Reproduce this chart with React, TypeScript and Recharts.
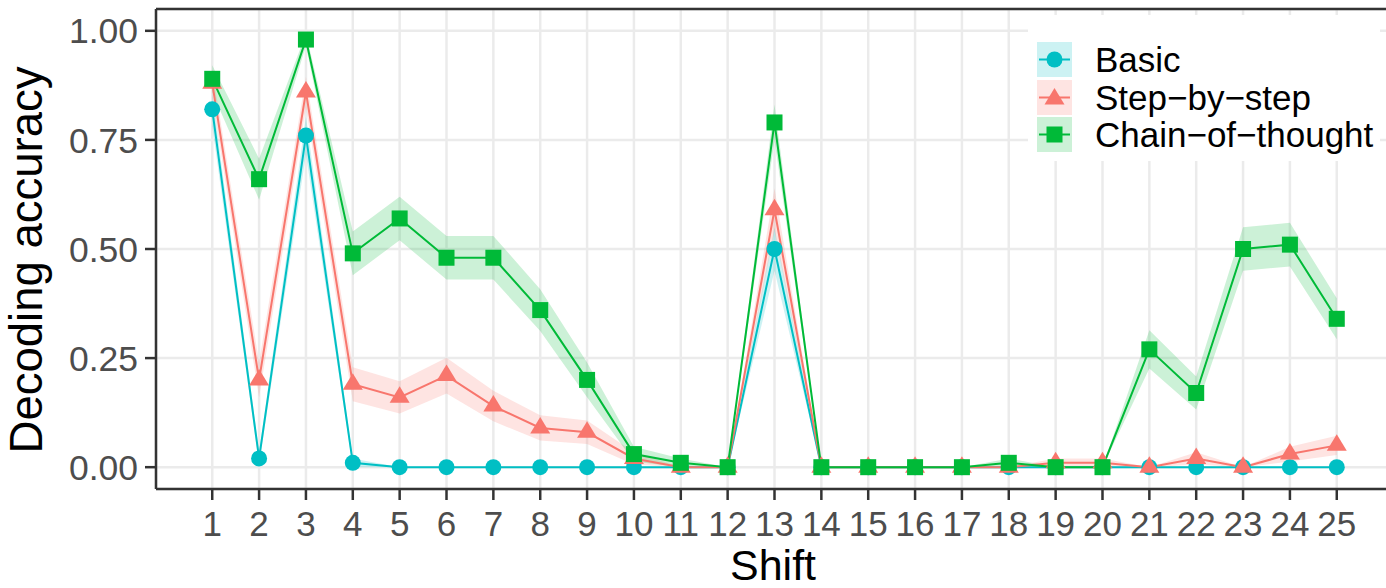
import {
  ComposedChart,
  Line,
  Area,
  XAxis,
  YAxis,
  CartesianGrid,
  ReferenceLine,
} from "recharts";

// values
const SHIFTS = [1, 2, 3, 4, 5, 6, 7, 8, 9, 10, 11, 12, 13, 14, 15, 16, 17, 18, 19, 20, 21, 22, 23, 24, 25];

const BASIC = [0.82, 0.02, 0.76, 0.01, 0, 0, 0, 0, 0, 0, 0, 0, 0.5, 0, 0, 0, 0, 0, 0, 0, 0, 0, 0, 0, 0];
const BASIC_ERR = [0.038, 0.014, 0.043, 0.01, 0, 0, 0, 0, 0, 0, 0, 0, 0.05, 0, 0, 0, 0, 0, 0, 0, 0, 0, 0, 0, 0];

const STEP = [0.88, 0.2, 0.86, 0.19, 0.16, 0.21, 0.14, 0.09, 0.08, 0.02, 0, 0, 0.59, 0, 0, 0, 0, 0, 0.01, 0.01, 0, 0.02, 0, 0.03, 0.05];
const STEP_ERR = [0.032, 0.04, 0.035, 0.039, 0.037, 0.041, 0.035, 0.029, 0.027, 0.014, 0, 0, 0.049, 0, 0, 0, 0, 0, 0.01, 0.01, 0, 0.014, 0, 0.017, 0.022];

const CHAIN = [0.89, 0.66, 0.98, 0.49, 0.57, 0.48, 0.48, 0.36, 0.2, 0.03, 0.01, 0, 0.79, 0, 0, 0, 0, 0.01, 0, 0, 0.27, 0.17, 0.5, 0.51, 0.34];
const CHAIN_ERR = [0.031, 0.047, 0.014, 0.05, 0.05, 0.05, 0.05, 0.048, 0.04, 0.017, 0.01, 0, 0.041, 0, 0, 0, 0, 0.01, 0, 0, 0.044, 0.038, 0.05, 0.05, 0.047];

const Y_TICKS = [0, 0.25, 0.5, 0.75, 1];
const LEGEND = ["Basic", "Step\u2212by\u2212step", "Chain\u2212of\u2212thought"];

const C_BASIC = "#00BFC4";
const C_STEP = "#F8766D";
const C_CHAIN = "#00BA38";
const COLORS = [C_BASIC, C_STEP, C_CHAIN];

const FONT = "'Liberation Sans', Arial, Helvetica, sans-serif";
const DARK = "#333333";

const data = SHIFTS.map((shift, i) => ({
  shift,
  basic: BASIC[i],
  step: STEP[i],
  chain: CHAIN[i],
  basicBand: [BASIC[i] - BASIC_ERR[i], BASIC[i] + BASIC_ERR[i]],
  stepBand: [STEP[i] - STEP_ERR[i], STEP[i] + STEP_ERR[i]],
  chainBand: [CHAIN[i] - CHAIN_ERR[i], CHAIN[i] + CHAIN_ERR[i]],
}));

const marker = (kind: number, cx: number, cy: number, color: string) => {
  if (kind === 0) return <circle cx={cx} cy={cy} r={8} fill={color} />;
  if (kind === 1)
    return (
      <polygon
        points={`${cx - 10},${cy + 5.5} ${cx + 10},${cy + 5.5} ${cx},${cy - 11}`}
        fill={color}
      />
    );
  return <rect x={cx - 8} y={cy - 8} width={16} height={16} fill={color} />;
};

const dotFor = (kind: number, color: string) => (props: any) => {
  const { cx, cy, index } = props;
  if (cx == null || cy == null) return <g key={index} />;
  return <g key={index}>{marker(kind, cx, cy, color)}</g>;
};

export default function App() {
  return (
    <div
      style={{
        position: "fixed",
        left: 0,
        top: 0,
        width: 1386,
        height: 588,
        overflow: "hidden",
        background: "#fff",
        fontFamily: FONT,
      }}
    >
      <ComposedChart
        width={1400}
        height={588}
        data={data}
        margin={{ top: 9, right: 7, left: 0, bottom: 0 }}
      >
        <CartesianGrid stroke="#EBEBEB" strokeWidth={2.5} />
        <XAxis
          dataKey="shift"
          type="number"
          domain={[-0.2, 26.2]}
          ticks={SHIFTS}
          interval={0}
          allowDataOverflow
          height={99}
          tickSize={11}
          tickMargin={11}
          tick={{ fill: "#4D4D4D", fontSize: 35, fontFamily: FONT }}
          tickLine={{ stroke: DARK, strokeWidth: 2.5 }}
          axisLine={{ stroke: DARK, strokeWidth: 2.5 }}
        />
        <YAxis
          type="number"
          domain={[-0.05, 1.05]}
          ticks={Y_TICKS}
          allowDataOverflow
          width={156}
          tickSize={11}
          tickMargin={7}
          tickFormatter={(v: number) => v.toFixed(2)}
          tick={{ fill: "#4D4D4D", fontSize: 35.5, fontFamily: FONT }}
          tickLine={{ stroke: DARK, strokeWidth: 2.5 }}
          axisLine={{ stroke: DARK, strokeWidth: 2.5 }}
        />
        <ReferenceLine y={1.05} stroke={DARK} strokeWidth={2.5} />

        <Area dataKey="basicBand" type="linear" stroke="none" fill={C_BASIC} fillOpacity={0.2} isAnimationActive={false} activeDot={false} />
        <Area dataKey="stepBand" type="linear" stroke="none" fill={C_STEP} fillOpacity={0.2} isAnimationActive={false} activeDot={false} />
        <Area dataKey="chainBand" type="linear" stroke="none" fill={C_CHAIN} fillOpacity={0.2} isAnimationActive={false} activeDot={false} />

        <Line dataKey="basic" type="linear" stroke={C_BASIC} strokeWidth={2} dot={false} activeDot={false} isAnimationActive={false} />
        <Line dataKey="step" type="linear" stroke={C_STEP} strokeWidth={2} dot={false} activeDot={false} isAnimationActive={false} />
        <Line dataKey="chain" type="linear" stroke={C_CHAIN} strokeWidth={2} dot={false} activeDot={false} isAnimationActive={false} />

        <Line dataKey="basic" type="linear" stroke="none" dot={dotFor(0, C_BASIC)} activeDot={false} isAnimationActive={false} />
        <Line dataKey="step" type="linear" stroke="none" dot={dotFor(1, C_STEP)} activeDot={false} isAnimationActive={false} />
        <Line dataKey="chain" type="linear" stroke="none" dot={dotFor(2, C_CHAIN)} activeDot={false} isAnimationActive={false} />
      </ComposedChart>

      {/* axis titles */}
      <div
        style={{
          position: "absolute",
          left: 27,
          top: 260,
          transform: "translate(-50%, -50%) rotate(-90deg)",
          fontSize: 45.5,
          lineHeight: 1,
          whiteSpace: "nowrap",
          color: "#000",
        }}
      >
        Decoding accuracy
      </div>
      <div
        style={{
          position: "absolute",
          left: 773,
          top: 548,
          transform: "translateX(-50%)",
          fontSize: 43,
          lineHeight: "34px",
          whiteSpace: "nowrap",
          color: "#000",
        }}
      >
        Shift
      </div>

      {/* legend */}
      <div
        style={{
          position: "absolute",
          left: 1028,
          top: 15,
          width: 352,
          height: 146,
          background: "#fff",
        }}
      >
        {LEGEND.map((name, i) => (
          <div
            key={name}
            style={{
              position: "absolute",
              left: 9,
              top: 27 + i * 37.5,
              height: 35,
              display: "flex",
              alignItems: "center",
            }}
          >
            <svg width={35} height={35} style={{ display: "block" }}>
              <rect width={35} height={35} fill={COLORS[i]} fillOpacity={0.2} />
              <line x1={2} x2={33} y1={17.5} y2={17.5} stroke={COLORS[i]} strokeWidth={2} />
              {marker(i, 17.5, i === 1 ? 19 : 17.5, COLORS[i])}
            </svg>
            <span
              style={{
                marginLeft: 23,
                fontSize: 35,
                lineHeight: "35px",
                color: "#000",
                whiteSpace: "nowrap",
              }}
            >
              {name}
            </span>
          </div>
        ))}
      </div>
    </div>
  );
}
